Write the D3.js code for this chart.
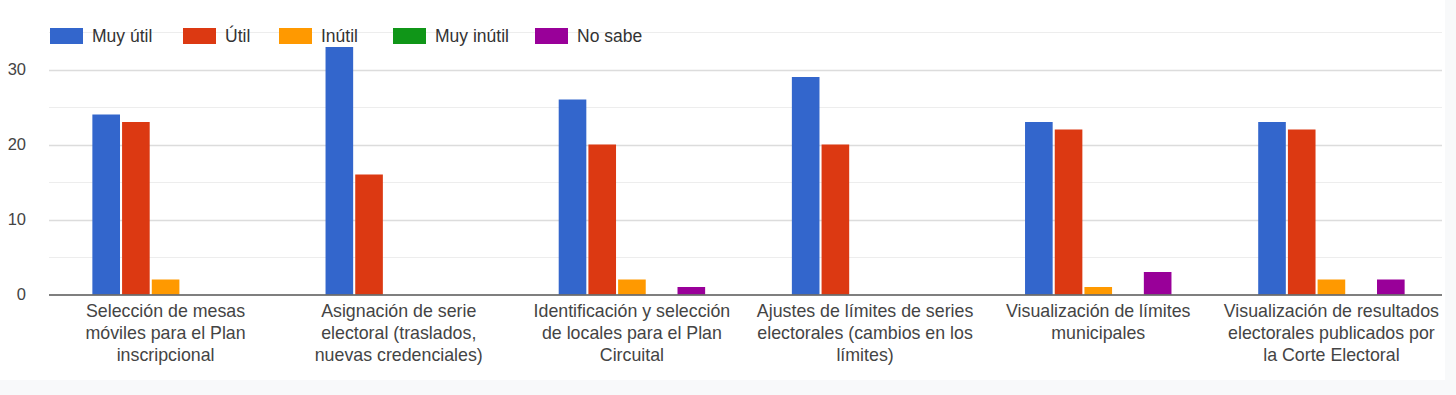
<!DOCTYPE html>
<html>
<head>
<meta charset="utf-8">
<script src="https://d3js.org/d3.v7.min.js"></script>
<style>
  body { margin: 0; background: #f8f9fa; }
  text { font-family: "Liberation Sans", Arial, sans-serif; }
</style>
</head>
<body>
<div id="chart"></div>
<script>
// categories (x axis), already split into lines
var categories = [
  ["Selección de mesas", "móviles para el Plan", "inscripcional"],
  ["Asignación de serie", "electoral (traslados,", "nuevas credenciales)"],
  ["Identificación y selección", "de locales para el Plan", "Circuital"],
  ["Ajustes de límites de series", "electorales (cambios en los", "límites)"],
  ["Visualización de límites", "municipales"],
  ["Visualización de resultados", "electorales publicados por", "la Corte Electoral"]
];
var seriesNames = ["Muy útil", "Útil", "Inútil", "Muy inútil", "No sabe"];
var seriesColors = ["#3366cc", "#dc3912", "#ff9900", "#109618", "#990099"];

var muyUtil   = [24, 33, 26, 29, 23, 23];
var util      = [23, 16, 20, 20, 22, 22];
var inutil    = [2, 0, 2, 0, 1, 2];
var muyInutil = [0, 0, 0, 0, 0, 0];
var noSabe    = [0, 0, 1, 0, 3, 2];

var yTicks = [0, 10, 20, 30];
var yGrid  = [5, 10, 15, 20, 25, 30, 35];

var width = 1456, height = 395;
var values = [muyUtil, util, inutil, muyInutil, noSabe];

var svg = d3.select("#chart").append("svg")
    .attr("width", width)
    .attr("height", height);

// white chart area
svg.append("rect")
    .attr("x", 0).attr("y", 0)
    .attr("width", 1445).attr("height", 380)
    .attr("fill", "#fff");

var catIdx = d3.range(categories.length);

var x0 = d3.scaleBand()
    .domain(catIdx)
    .range([49, 1448])
    .paddingInner(0.372)
    .paddingOuter(0.186);

var x1 = d3.scaleBand()
    .domain(d3.range(seriesNames.length))
    .range([0, x0.bandwidth()])
    .paddingInner(0.07);

var y = d3.scaleLinear()
    .domain([0, 35])
    .range([294.5, 32]);

// gridlines
svg.append("g").selectAll("line")
    .data(yGrid)
    .enter().append("line")
    .attr("x1", 49).attr("x2", 1442)
    .attr("y1", function(d) { return Math.round(y(d)) + 0.5; })
    .attr("y2", function(d) { return Math.round(y(d)) + 0.5; })
    .attr("stroke", function(d) { return d % 10 === 0 ? "#dcdcdc" : "#ededed"; })
    .attr("stroke-width", function(d) { return d % 10 === 0 ? 1.5 : 1.2; });

// y tick labels
svg.append("g").selectAll("text")
    .data(yTicks)
    .enter().append("text")
    .attr("x", 26)
    .attr("y", function(d) { return y(d); })
    .attr("dy", "0.35em")
    .attr("text-anchor", "end")
    .attr("font-size", 16.5)
    .attr("fill", "#444")
    .text(function(d) { return d; });

// bars
var groups = svg.append("g").selectAll("g")
    .data(catIdx)
    .enter().append("g")
    .attr("transform", function(i) { return "translate(" + x0(i) + ",0)"; });

groups.selectAll("rect")
    .data(function(i) {
      return values.map(function(s, k) { return {k: k, v: s[i]}; });
    })
    .enter().append("rect")
    .filter(function(d) { return d.v > 0; })
    .attr("x", function(d) { return x1(d.k); })
    .attr("y", function(d) { return y(d.v); })
    .attr("width", x1.bandwidth())
    .attr("height", function(d) { return y(0) - y(d.v); })
    .attr("fill", function(d) { return seriesColors[d.k]; });

// baseline
svg.append("line")
    .attr("x1", 49).attr("x2", 1442)
    .attr("y1", 295).attr("y2", 295)
    .attr("stroke", "#555")
    .attr("stroke-width", 1.5);

// category labels
var labels = svg.append("g").selectAll("text")
    .data(catIdx)
    .enter().append("text")
    .attr("x", function(i) { return x0(i) + x0.bandwidth() / 2; })
    .attr("y", 317)
    .attr("text-anchor", "middle")
    .attr("font-size", 17.8)
    .attr("fill", "#444");

labels.selectAll("tspan")
    .data(function(i) { return categories[i]; })
    .enter().append("tspan")
    .attr("x", function() { return d3.select(this.parentNode).attr("x"); })
    .attr("dy", function(d, j) { return j === 0 ? 0 : 22; })
    .text(function(d) { return d; });

// legend
var legendX = [50, 183, 279, 393, 535];
var legend = svg.append("g").selectAll("g")
    .data(seriesNames)
    .enter().append("g")
    .attr("transform", function(d, i) { return "translate(" + legendX[i] + ",28)"; });

legend.append("rect")
    .attr("width", 33)
    .attr("height", 16)
    .attr("fill", function(d, i) { return seriesColors[i]; });

legend.append("text")
    .attr("x", 42)
    .attr("y", 8)
    .attr("dy", "0.36em")
    .attr("font-size", 17.5)
    .attr("fill", "#333")
    .text(function(d) { return d; });
</script>
</body>
</html>
